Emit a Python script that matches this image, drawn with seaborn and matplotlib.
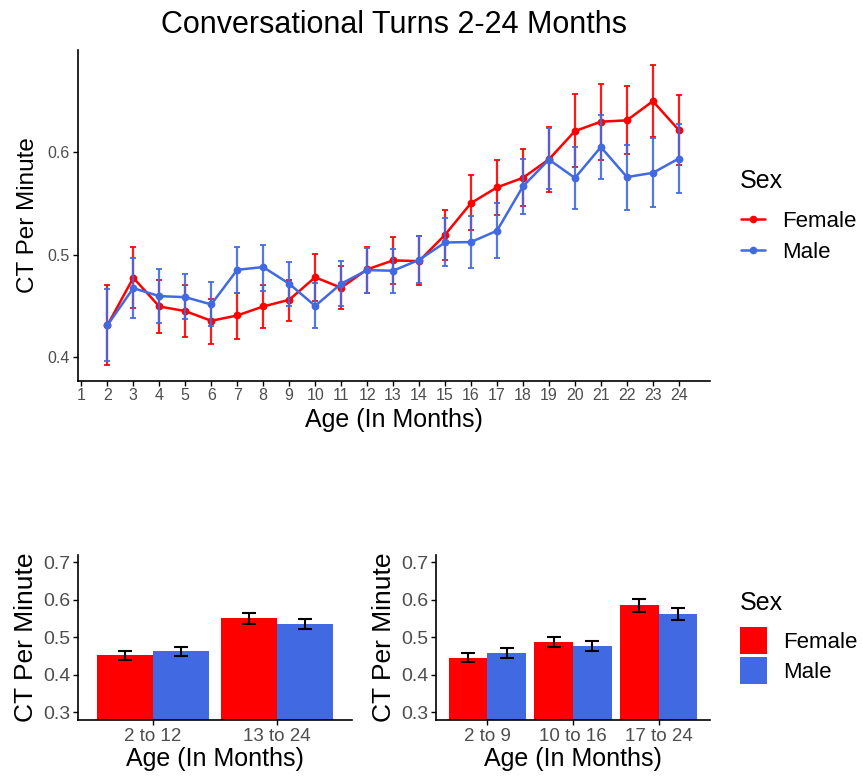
import numpy as np
import pandas as pd
import matplotlib
matplotlib.use("Agg")
import matplotlib.pyplot as plt
import seaborn as sns
from matplotlib.lines import Line2D
from matplotlib.patches import Patch

# ---------------- data ----------------
months = [2, 3, 4, 5, 6, 7, 8, 9, 10, 11, 12, 13, 14, 15, 16, 17, 18, 19, 20, 21, 22, 23, 24]
month_ticks = list(range(1, 25))

female = [0.431, 0.4775, 0.4495, 0.445, 0.4355, 0.4407, 0.4495, 0.456, 0.478, 0.4678, 0.4857, 0.4945,
          0.4938, 0.5195, 0.5505, 0.5658, 0.5752, 0.5932, 0.6208, 0.630, 0.6313, 0.650, 0.6218]
female_lo = [0.392, 0.448, 0.424, 0.420, 0.413, 0.418, 0.428, 0.4355, 0.455, 0.4466, 0.4625, 0.471,
             0.470, 0.495, 0.5238, 0.5388, 0.548, 0.5616, 0.5853, 0.593, 0.598, 0.615, 0.588]
female_hi = [0.470, 0.5075, 0.4756, 0.470, 0.457, 0.463, 0.470, 0.4756, 0.501, 0.489, 0.508, 0.517,
             0.518, 0.544, 0.5775, 0.5925, 0.603, 0.625, 0.6567, 0.667, 0.6645, 0.6857, 0.6564]

male = [0.431, 0.4674, 0.4596, 0.4586, 0.4515, 0.4853, 0.488, 0.4717, 0.450, 0.4717, 0.485, 0.4844,
        0.495, 0.512, 0.5124, 0.5235, 0.5668, 0.593, 0.575, 0.6052, 0.5759, 0.580, 0.594]
male_lo = [0.3967, 0.438, 0.4336, 0.437, 0.430, 0.463, 0.465, 0.450, 0.4287, 0.450, 0.463, 0.463,
           0.4723, 0.4886, 0.4873, 0.4964, 0.5397, 0.564, 0.5446, 0.574, 0.5433, 0.547, 0.560]
male_hi = [0.467, 0.4964, 0.4857, 0.481, 0.473, 0.5075, 0.510, 0.493, 0.472, 0.4938, 0.507, 0.5055,
           0.518, 0.536, 0.5378, 0.5505, 0.594, 0.6235, 0.6052, 0.6368, 0.6072, 0.614, 0.628]

sexes = ["Female", "Male"]

groups2 = ["2 to 12", "13 to 24"]
female2 = [0.452, 0.551]
female2_err = [0.0125, 0.0145]
male2 = [0.463, 0.5345]
male2_err = [0.012, 0.013]

groups3 = ["2 to 9", "10 to 16", "17 to 24"]
female3 = [0.446, 0.4867, 0.585]
female3_err = [0.012, 0.0133, 0.0175]
male3 = [0.459, 0.476, 0.562]
male3_err = [0.013, 0.0133, 0.016]

y_ticks_top = [0.4, 0.5, 0.6]
y_ticks_bar = [0.3, 0.4, 0.5, 0.6, 0.7]

# ---------------- style ----------------
RED = "#FF0000"
BLUE = "#4169E1"
palette = {"Female": RED, "Male": BLUE}
TICK_GREY = "#4D4D4D"

sns.set_theme(style="ticks")
plt.rcParams["font.family"] = ["Liberation Sans", "DejaVu Sans"]
plt.rcParams["text.color"] = "black"
plt.rcParams["axes.labelcolor"] = "black"

W, H = 863, 778
fig = plt.figure(figsize=(W / 100, H / 100), dpi=100)


def ax_px(l, t, r, b):
    return fig.add_axes([l / W, 1 - b / H, (r - l) / W, (b - t) / H])


def style(ax, tick_size_x, tick_size_y):
    for s in ["top", "right"]:
        ax.spines[s].set_visible(False)
    for s in ["left", "bottom"]:
        ax.spines[s].set_color("black")
        ax.spines[s].set_linewidth(1.2)
    ax.tick_params(axis="both", colors="black", length=3.5, width=1.0)
    ax.tick_params(axis="x", labelcolor=TICK_GREY, labelsize=tick_size_x, pad=2)
    ax.tick_params(axis="y", labelcolor=TICK_GREY, labelsize=tick_size_y, pad=2)
    ax.set_facecolor("white")


# ---------------- top line chart ----------------
ax = ax_px(77.7, 50, 710, 380.7)
df_line = pd.DataFrame({
    "Age": months * 2,
    "CT": female + male,
    "Sex": ["Female"] * len(months) + ["Male"] * len(months),
})
sns.lineplot(data=df_line, x="Age", y="CT", hue="Sex", hue_order=sexes, palette=palette,
             marker="o", markersize=5.6, markeredgewidth=0, linewidth=1.8,
             errorbar=None, ax=ax, legend=False)
for name, vals, lo, hi in [("Female", female, female_lo, female_hi), ("Male", male, male_lo, male_hi)]:
    v = np.array(vals)
    yerr = np.vstack([v - np.array(lo), np.array(hi) - v])
    ax.errorbar(months, v, yerr=yerr, fmt="none", ecolor=palette[name], elinewidth=1.6,
                capsize=2.2, capthick=1.4, alpha=0.9, zorder=1.5 if name == "Female" else 2.5)
ax.set_xlim(0.86, 25.2)
ax.set_ylim(0.377, 0.70)
ax.set_xticks(month_ticks)
ax.set_yticks(y_ticks_top)
ax.set_yticklabels([f"{t:.1f}" for t in y_ticks_top])
style(ax, 11.5, 11.5)
ax.set_xlabel("Age (In Months)", fontsize=18, labelpad=3)
ax.set_ylabel("CT Per Minute", fontsize=17.5, labelpad=6)
fig.text(394 / W, 1 - 33 / H, "Conversational Turns 2-24 Months", fontsize=22,
         ha="center", va="baseline")

# legend (line chart)
fig.text(740 / W, 1 - 181 / H, "Sex", fontsize=18, ha="left", va="center")
line_handles = [Line2D([], [], color=palette[s], marker="o", markersize=5.5, markeredgewidth=0, lw=1.8)
                for s in sexes]
fig.legend(line_handles, sexes, loc="upper left", bbox_to_anchor=(741 / W, 1 - 211 / H),
           frameon=False, fontsize=16, handlelength=1.1,
           handletextpad=0.75, labelspacing=0.43, borderpad=0, borderaxespad=0)


# ---------------- bar charts ----------------
def bar_panel(ax, groups, fvals, ferr, mvals, merr):
    df = pd.DataFrame({
        "Age": groups * 2,
        "CT": fvals + mvals,
        "Sex": ["Female"] * len(groups) + ["Male"] * len(groups),
    })
    sns.barplot(data=df, x="Age", y="CT", hue="Sex", hue_order=sexes, palette=palette,
                order=groups, width=0.9, errorbar=None, saturation=1, edgecolor="none",
                ax=ax, legend=False)
    for cont, vals, errs in zip(ax.containers, [fvals, mvals], [ferr, merr]):
        xs = [b.get_x() + b.get_width() / 2 for b in cont]
        ax.errorbar(xs, vals, yerr=errs, fmt="none", ecolor="black", elinewidth=1.5,
                    capsize=5, capthick=1.5, zorder=3)
    ax.set_xlim(-0.6, len(groups) - 0.4)
    ax.set_ylim(0.28, 0.72)
    ax.set_yticks(y_ticks_bar)
    ax.set_yticklabels([f"{t:.1f}" for t in y_ticks_bar])
    style(ax, 13.5, 14)
    ax.set_xlabel("Age (In Months)", fontsize=18, labelpad=2)
    ax.set_ylabel("CT Per Minute", fontsize=19, labelpad=4)


ax2 = ax_px(78, 554.5, 352, 720)
bar_panel(ax2, groups2, female2, female2_err, male2, male2_err)
ax3 = ax_px(436, 554.5, 710, 720)
bar_panel(ax3, groups3, female3, female3_err, male3, male3_err)

# legend (bar charts)
fig.text(740 / W, 1 - 603 / H, "Sex", fontsize=18, ha="left", va="center")
bar_handles = [Patch(facecolor=palette[s], edgecolor="none") for s in sexes]
fig.legend(bar_handles, sexes, loc="upper left", bbox_to_anchor=(740 / W, 1 - 627 / H),
           frameon=False, fontsize=16, handlelength=1.22,
           handleheight=1.49, handletextpad=0.72, labelspacing=0.135, borderpad=0, borderaxespad=0)

fig.savefig("out.png", dpi=100, facecolor="white")
